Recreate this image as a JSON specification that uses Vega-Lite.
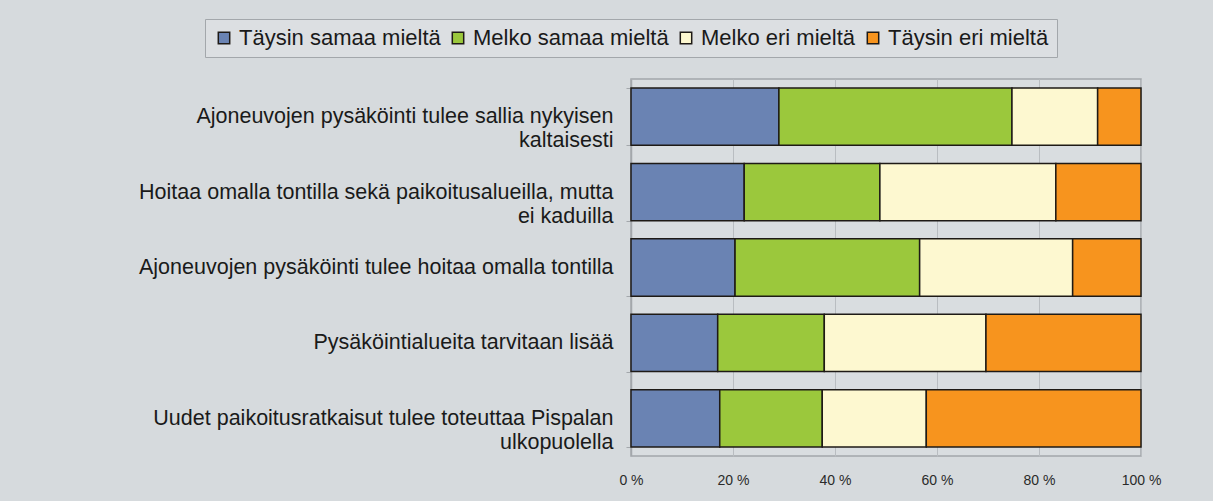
{
  "$schema": "https://vega.github.io/schema/vega-lite/v6.json",
  "width": 510,
  "height": 377,
  "autosize": {"type": "none"},
  "padding": {"left": 631, "top": 79, "right": 72, "bottom": 45},
  "background": "#d6dadd",
  "config": {
    "font": "Liberation Sans",
    "view": {"stroke": "#a3a7ab", "strokeWidth": 1.5, "fill": "#d9dde0"}
  },
  "data": {
    "values": [
      {"q": "Ajoneuvojen pysäköinti tulee sallia nykyisen kaltaisesti", "r": "Täysin samaa mieltä", "k": 1, "v": 29.0},
      {"q": "Ajoneuvojen pysäköinti tulee sallia nykyisen kaltaisesti", "r": "Melko samaa mieltä", "k": 2, "v": 45.7},
      {"q": "Ajoneuvojen pysäköinti tulee sallia nykyisen kaltaisesti", "r": "Melko eri mieltä", "k": 3, "v": 16.8},
      {"q": "Ajoneuvojen pysäköinti tulee sallia nykyisen kaltaisesti", "r": "Täysin eri mieltä", "k": 4, "v": 8.5},
      {"q": "Hoitaa omalla tontilla sekä paikoitusalueilla, mutta ei kaduilla", "r": "Täysin samaa mieltä", "k": 1, "v": 22.2},
      {"q": "Hoitaa omalla tontilla sekä paikoitusalueilla, mutta ei kaduilla", "r": "Melko samaa mieltä", "k": 2, "v": 26.6},
      {"q": "Hoitaa omalla tontilla sekä paikoitusalueilla, mutta ei kaduilla", "r": "Melko eri mieltä", "k": 3, "v": 34.5},
      {"q": "Hoitaa omalla tontilla sekä paikoitusalueilla, mutta ei kaduilla", "r": "Täysin eri mieltä", "k": 4, "v": 16.7},
      {"q": "Ajoneuvojen pysäköinti tulee hoitaa omalla tontilla", "r": "Täysin samaa mieltä", "k": 1, "v": 20.4},
      {"q": "Ajoneuvojen pysäköinti tulee hoitaa omalla tontilla", "r": "Melko samaa mieltä", "k": 2, "v": 36.2},
      {"q": "Ajoneuvojen pysäköinti tulee hoitaa omalla tontilla", "r": "Melko eri mieltä", "k": 3, "v": 30.0},
      {"q": "Ajoneuvojen pysäköinti tulee hoitaa omalla tontilla", "r": "Täysin eri mieltä", "k": 4, "v": 13.4},
      {"q": "Pysäköintialueita tarvitaan lisää", "r": "Täysin samaa mieltä", "k": 1, "v": 17.0},
      {"q": "Pysäköintialueita tarvitaan lisää", "r": "Melko samaa mieltä", "k": 2, "v": 20.9},
      {"q": "Pysäköintialueita tarvitaan lisää", "r": "Melko eri mieltä", "k": 3, "v": 31.7},
      {"q": "Pysäköintialueita tarvitaan lisää", "r": "Täysin eri mieltä", "k": 4, "v": 30.4},
      {"q": "Uudet paikoitusratkaisut tulee toteuttaa Pispalan ulkopuolella", "r": "Täysin samaa mieltä", "k": 1, "v": 17.4},
      {"q": "Uudet paikoitusratkaisut tulee toteuttaa Pispalan ulkopuolella", "r": "Melko samaa mieltä", "k": 2, "v": 20.1},
      {"q": "Uudet paikoitusratkaisut tulee toteuttaa Pispalan ulkopuolella", "r": "Melko eri mieltä", "k": 3, "v": 20.4},
      {"q": "Uudet paikoitusratkaisut tulee toteuttaa Pispalan ulkopuolella", "r": "Täysin eri mieltä", "k": 4, "v": 42.1}
    ]
  },
  "mark": {"type": "bar", "stroke": "#1e1a16", "strokeWidth": 1.5},
  "encoding": {
    "y": {
      "field": "q",
      "type": "nominal",
      "sort": null,
      "scale": {"paddingInner": 0.24, "paddingOuter": 0.12},
      "axis": {
        "title": null,
        "domainColor": "#a3a7ab",
        "domainWidth": 1.5,
        "ticks": true,
        "tickBand": "extent",
        "tickSize": 5,
        "tickColor": "#a3a7ab",
        "labelFont": "Liberation Sans",
        "labelFontSize": 21.5,
        "labelColor": "#1a1a1a",
        "labelPadding": 13,
        "labelLineHeight": 24,
        "labelLimit": 700,
        "labelExpr": "datum.label == 'Ajoneuvojen pysäköinti tulee sallia nykyisen kaltaisesti' ? ['Ajoneuvojen pysäköinti tulee sallia nykyisen', 'kaltaisesti'] : datum.label == 'Hoitaa omalla tontilla sekä paikoitusalueilla, mutta ei kaduilla' ? ['Hoitaa omalla tontilla sekä paikoitusalueilla, mutta', 'ei kaduilla'] : datum.label == 'Uudet paikoitusratkaisut tulee toteuttaa Pispalan ulkopuolella' ? ['Uudet paikoitusratkaisut tulee toteuttaa Pispalan', 'ulkopuolella'] : datum.label"
      }
    },
    "x": {
      "field": "v",
      "type": "quantitative",
      "stack": "normalize",
      "scale": {"domain": [0, 1], "nice": false},
      "axis": {
        "title": null,
        "values": [0, 0.2, 0.4, 0.6, 0.8, 1],
        "labelExpr": "round(datum.value * 100) + ' %'",
        "grid": true,
        "gridColor": "#b9bdc1",
        "gridWidth": 1,
        "domain": false,
        "ticks": false,
        "labelFont": "Liberation Sans",
        "labelFontSize": 14,
        "labelColor": "#2a2a2a",
        "labelPadding": 17,
        "labelFlush": false
      }
    },
    "color": {
      "field": "r",
      "type": "nominal",
      "scale": {
        "domain": ["Täysin samaa mieltä", "Melko samaa mieltä", "Melko eri mieltä", "Täysin eri mieltä"],
        "range": ["#6a83b3", "#9bc83c", "#fdf8d0", "#f7941e"]
      },
      "legend": {
        "title": null,
        "orient": "none",
        "legendX": -426,
        "legendY": -60,
        "direction": "horizontal",
        "symbolType": "square",
        "symbolSize": 130,
        "symbolStrokeColor": "#1e1a16",
        "symbolStrokeWidth": 1.5,
        "symbolOpacity": 1,
        "labelFont": "Liberation Sans",
        "labelFontSize": 22,
        "labelColor": "#1a1a1a",
        "labelOffset": 4,
        "columnPadding": 6,
        "labelLimit": 400,
        "padding": 8,
        "strokeColor": "#a3a7ab",
        "fillColor": "#dcdfe2"
      }
    },
    "order": {"field": "k", "type": "quantitative"}
  }
}
